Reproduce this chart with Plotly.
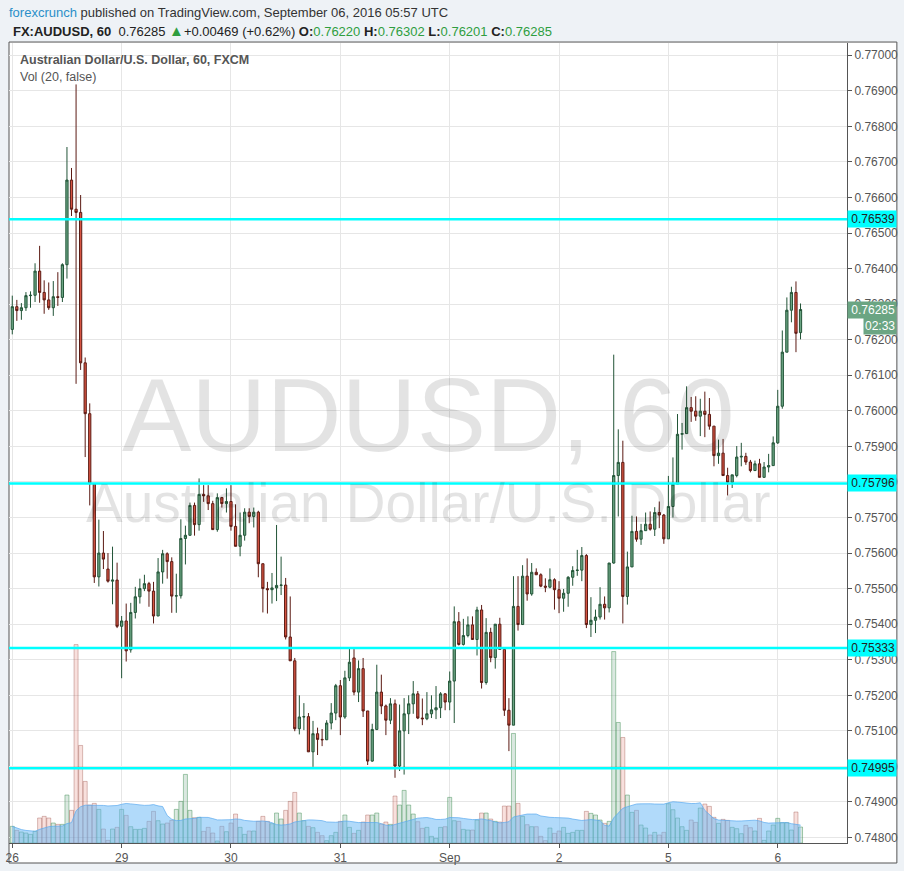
import pandas as pd
import plotly.graph_objects as go

# AUDUSD 60 min bars (FXCM), 26 Aug - 6 Sep 2016; market closed Fri 21:00 - Sun 21:00 UTC
all_hours = pd.date_range("2016-08-26 00:00", "2016-09-06 05:00", freq="h")
open_hours = [t for t in all_hours
              if not (t.dayofweek == 5
                      or (t.dayofweek == 4 and t.hour >= 21)
                      or (t.dayofweek == 6 and t.hour < 21))]
times = [t.strftime("%Y-%m-%d %H:%M") for t in open_hours]

opens = [
    .76229, .76293, .76282, .76290, .76324, .76325, .76393, .76333, .76312, .76290,
    .76321, .76319, .76411, .76649, .76567, .76558, .76135, .75992, .75795, .75533,
    .75600, .75555, .75521, .75524, .75394, .75409, .75328, .75433, .75477, .75500,
    .75514, .75493, .75423, .75547, .75598, .75576, .75479, .75480, .75641, .75650,
    .75734, .75680, .75765, .75761, .75739, .75666, .75756, .75739, .75745, .75675,
    .75619, .75650, .75715, .75703, .75715, .75570, .75500, .75497, .75502, .75509,
    .75510, .75364, .75297, .75106, .75139, .75140, .75041, .75092, .75076, .75075,
    .75122, .75150, .75227, .75139, .75249, .75305, .75209, .75275, .75156, .75015,
    .75104, .75209, .75170, .75130, .75176, .75001, .75100, .75148, .75176, .75204,
    .75136, .75134, .75148, .75159, .75165, .75204, .75181, .75240, .75407, .75343,
    .75368, .75398, .75357, .75440, .75236, .75377, .75306, .75400, .75329, .75158,
    .75116, .75450, .75399, .75535, .75485, .75546, .75539, .75507, .75504, .75525,
    .75497, .75473, .75487, .75532, .75551, .75552, .75593, .75399, .75411, .75420,
    .75456, .75446, .75572, .75818, .75855, .75478, .75561, .75661, .75639, .75663,
    .75681, .75667, .75714, .75707, .75640, .75731, .75794, .75934, .75936, .76009,
    .75999, .75985, .75999, .75990, .75957, .75874, .75881, .75818, .75799, .75818,
    .75870, .75872, .75856, .75832, .75851, .75813, .75842, .75846, .75910, .76013,
    .76165, .76283, .76333, .76220]
highs = [
    .76324, .76312, .76303, .76334, .76336, .76415, .76464, .76367, .76361, .76365,
    .76390, .76415, .76742, .76683, .76918, .76607, .76150, .76021, .75795, .75694,
    .75662, .75600, .75618, .75573, .75423, .75458, .75460, .75505, .75528, .75539,
    .75519, .75519, .75586, .75609, .75602, .75588, .75542, .75695, .75677, .75742,
    .75742, .75810, .75791, .75791, .75747, .75768, .75758, .75782, .75791, .75737,
    .75714, .75726, .75726, .75728, .75719, .75570, .75519, .75544, .75679, .75590,
    .75530, .75478, .75305, .75200, .75178, .75150, .75128, .75109, .75105, .75130,
    .75178, .75232, .75243, .75269, .75335, .75330, .75298, .75305, .75156, .75120,
    .75286, .75258, .75174, .75192, .75188, .75174, .75192, .75200, .75240, .75212,
    .75191, .75209, .75200, .75226, .75209, .75206, .75267, .75450, .75434, .75415,
    .75422, .75422, .75449, .75454, .75417, .75390, .75400, .75418, .75329, .75192,
    .75535, .75535, .75566, .75585, .75572, .75557, .75543, .75529, .75557, .75529,
    .75521, .75499, .75535, .75563, .75609, .75617, .75597, .75476, .75441, .75504,
    .75478, .75572, .76158, .75948, .75916, .75604, .75705, .75703, .75682, .75714,
    .75717, .75729, .75745, .75710, .75817, .75869, .75991, .75966, .76069, .76039,
    .76041, .76034, .76054, .76036, .75957, .75919, .75921, .75840, .75820, .75901,
    .75910, .75882, .75862, .75860, .75865, .75856, .75879, .75928, .76059, .76226,
    .76319, .76349, .76364, .76302]
lows = [
    .76215, .76253, .76256, .76281, .76290, .76306, .76304, .76273, .76284, .76267,
    .76295, .76306, .76372, .76548, .76076, .76115, .75870, .75734, .75516, .75506,
    .75555, .75517, .75456, .75389, .75248, .75295, .75320, .75416, .75458, .75493,
    .75449, .75402, .75423, .75514, .75528, .75432, .75432, .75472, .75568, .75649,
    .75649, .75663, .75744, .75721, .75665, .75660, .75728, .75714, .75663, .75619,
    .75591, .75635, .75684, .75672, .75532, .75433, .75430, .75458, .75465, .75482,
    .75357, .75297, .75099, .75090, .75102, .75041, .74999, .75032, .75057, .75074,
    .75104, .75130, .75088, .75134, .75240, .75200, .75181, .75139, .75004, .75013,
    .75102, .75147, .75088, .75119, .74968, .74987, .74977, .75091, .75148, .75133,
    .75116, .75130, .75136, .75133, .75136, .75158, .75158, .75122, .75340, .75340,
    .75363, .75357, .75312, .75219, .75230, .75293, .75275, .75329, .75142, .75043,
    .75116, .75382, .75399, .75466, .75480, .75539, .75504, .75490, .75501, .75441,
    .75431, .75435, .75449, .75508, .75536, .75521, .75389, .75364, .75375, .75413,
    .75413, .75433, .75570, .75703, .75402, .75455, .75561, .75632, .75623, .75663,
    .75663, .75648, .75670, .75626, .75640, .75700, .75794, .75891, .75936, .75969,
    .75972, .75929, .75926, .75947, .75844, .75851, .75818, .75762, .75783, .75813,
    .75844, .75848, .75827, .75832, .75813, .75812, .75827, .75846, .75907, .76006,
    .76165, .76249, .76165, .76201]
closes = [
    .76293, .76282, .76290, .76324, .76325, .76393, .76333, .76312, .76290, .76321,
    .76319, .76411, .76649, .76567, .76558, .76135, .75992, .75795, .75533, .75600,
    .75583, .75521, .75524, .75394, .75409, .75325, .75433, .75477, .75500, .75514,
    .75493, .75423, .75547, .75598, .75576, .75479, .75480, .75641, .75650, .75734,
    .75680, .75765, .75761, .75739, .75666, .75756, .75739, .75745, .75675, .75619,
    .75650, .75715, .75703, .75715, .75570, .75500, .75497, .75502, .75509, .75510,
    .75364, .75297, .75106, .75139, .75140, .75041, .75092, .75076, .75075, .75122,
    .75150, .75227, .75139, .75249, .75293, .75209, .75275, .75156, .75015, .75104,
    .75209, .75170, .75130, .75176, .75001, .75100, .75148, .75176, .75204, .75136,
    .75134, .75148, .75159, .75165, .75204, .75181, .75240, .75407, .75343, .75368,
    .75398, .75357, .75440, .75236, .75377, .75306, .75400, .75329, .75158, .75116,
    .75450, .75399, .75535, .75485, .75546, .75539, .75507, .75504, .75525, .75497,
    .75473, .75487, .75532, .75551, .75552, .75593, .75399, .75411, .75420, .75456,
    .75446, .75572, .75818, .75855, .75478, .75561, .75661, .75639, .75663, .75681,
    .75667, .75714, .75707, .75640, .75731, .75794, .75934, .75936, .76009, .75999,
    .75985, .75999, .75990, .75957, .75874, .75881, .75818, .75799, .75820, .75870,
    .75872, .75856, .75832, .75851, .75813, .75842, .75846, .75910, .76013, .76165,
    .76283, .76333, .76218, .76285]
volume = [
    50, 38, 33, 30, 26, 35, 75, 80, 75, 60, 56, 56, 144, 98,
    596, 293, 185, 114, 119, 101, 42, 8, 42, 47, 101, 83, 49, 41,
    41, 44, 65, 95, 67, 57, 60, 68, 101, 125, 206, 98, 76, 77,
    35, 47, 30, 6, 50, 34, 60, 87, 47, 26, 36, 36, 65, 80,
    65, 58, 90, 72, 98, 125, 152, 90,
    67, 50, 46, 32, 22, 7, 22, 32, 65, 84, 47, 29, 38, 63,
    84, 84, 90, 57, 63, 56, 141, 114, 158, 114, 87, 64, 44, 47,
    20, 14, 47, 49, 137, 67, 65, 41, 39, 39, 69, 90, 90, 72,
    65, 63, 111, 111, 329, 119, 80, 55, 49, 49, 20, 7, 45, 29,
    36, 47, 29, 32, 38, 38, 95, 89, 84, 69, 59, 65, 575, 362,
    317, 144, 92, 98, 54, 45, 24, 32, 24, 32, 118, 100, 75, 49,
    38, 69, 62, 105, 117, 110, 77, 59, 71, 68, 47, 43, 28, 53,
    46, 36, 74, 8, 36, 54, 74, 61, 61, 39, 93, 48]

day_ticks = ["2016-08-26 00:00", "2016-08-29 00:00", "2016-08-30 00:00", "2016-08-31 00:00",
             "2016-09-01 00:00", "2016-09-02 00:00", "2016-09-05 00:00", "2016-09-06 00:00"]
day_labels = ["26", "29", "30", "31", "Sep", "2", "5", "6"]

levels = [0.76539, 0.75796, 0.75333, 0.74995]

# Vol (20) moving average
vol_ma = pd.Series(volume).rolling(20, min_periods=1).mean()

up_col, down_col = "#6ba583", "#d75442"
vol_fill = ["rgba(107,165,131,0.25)" if c >= o else "rgba(215,84,66,0.18)" for o, c in zip(opens, closes)]
vol_edge = ["rgba(60,140,80,0.45)" if c >= o else "rgba(150,70,60,0.35)" for o, c in zip(opens, closes)]

fig = go.Figure()

fig.add_trace(go.Bar(
    x=times, y=volume, yaxis="y",
    marker=dict(color=vol_fill, line=dict(color=vol_edge, width=1)),
    hoverinfo="skip",
))
fig.add_trace(go.Scatter(
    x=times, y=vol_ma, yaxis="y", mode="lines",
    line=dict(color="rgba(90,170,240,0.7)", width=1),
    fill="tozeroy", fillcolor="rgba(100,181,246,0.5)",
    hoverinfo="skip",
))
fig.add_trace(go.Candlestick(
    x=times, open=opens, high=highs, low=lows, close=closes, yaxis="y2",
    increasing=dict(fillcolor=up_col, line=dict(color="#225437", width=1)),
    decreasing=dict(fillcolor=down_col, line=dict(color="#5b1a13", width=1)),
    whiskerwidth=0,
))

for lvl in levels:
    fig.add_shape(type="line", xref="paper", x0=0, x1=1, yref="y2", y0=lvl, y1=lvl,
                  line=dict(color="#00ffff", width=2.5))
    fig.add_annotation(x=1, xref="paper", xanchor="left", y=lvl, yref="y2",
                       text=f"{lvl:.5f}", showarrow=False, bgcolor="#00ffff",
                       font=dict(size=12, color="#222"), width=46, align="right", borderpad=1)

last = closes[-1]
fig.add_annotation(x=1, xref="paper", xanchor="left", y=last, yref="y2",
                   text=f"{last:.5f}", showarrow=False, bgcolor=up_col,
                   font=dict(size=12, color="white"), width=46, align="right", borderpad=1)
fig.add_annotation(x=1.0595, xref="paper", xanchor="right", y=last, yref="y2", yshift=-16,
                   text="02:33", showarrow=False, bgcolor=up_col,
                   font=dict(size=12, color="white"), borderpad=1)

# outer frame of the chart pane
fig.add_shape(type="rect", xref="paper", yref="paper", x0=0, x1=1.0595, y0=-0.025, y1=1.0012,
              line=dict(color="#555", width=1), fillcolor="white", layer="below")

# watermark
fig.add_annotation(x=0.5, y=0.535, xref="paper", yref="paper", text="AUDUSD, 60",
                   showarrow=False, font=dict(size=104, color="rgba(0,0,0,0.11)"))
fig.add_annotation(x=0.5, y=0.425, xref="paper", yref="paper", text="Australian Dollar/U.S. Dollar",
                   showarrow=False, font=dict(size=55, color="rgba(0,0,0,0.11)"))

# header
fig.add_annotation(x=-0.0024, y=1.0381, xref="paper", yref="paper", xanchor="left", yanchor="middle",
                   text="<span style='color:#2a8fc9'>forexcrunch</span> published on TradingView.com, "
                        "September 06, 2016 05:57 UTC",
                   showarrow=False, font=dict(size=13, color="#333"))
green = "#2f9e3f"
fig.add_annotation(x=0.0024, y=1.0156, xref="paper", yref="paper", xanchor="left", yanchor="middle",
                   text=f"<b>FX:AUDUSD, 60</b>  0.76285 <span style='color:{green}; font-size:15px'>▲</span>"
                        f"+0.00469 (+0.62%) <b>O:</b><span style='color:{green}'>0.76220</span> "
                        f"<b>H:</b><span style='color:{green}'>0.76302</span> "
                        f"<b>L:</b><span style='color:{green}'>0.76201</span> "
                        f"<b>C:</b><span style='color:{green}'>0.76285</span>",
                   showarrow=False, font=dict(size=13, color="#222"))
fig.add_annotation(x=0.0107, y=0.9788, xref="paper", yref="paper", xanchor="left", yanchor="middle",
                   text="<b>Australian Dollar/U.S. Dollar, 60, FXCM</b>",
                   showarrow=False, font=dict(size=12.5, color="#555"))
fig.add_annotation(x=0.0107, y=0.9576, xref="paper", yref="paper", xanchor="left", yanchor="middle",
                   text="Vol (20, false)", showarrow=False, font=dict(size=12.5, color="#555"))

fig.update_layout(
    width=904, height=871,
    margin=dict(l=6, r=57, t=43, b=27),
    paper_bgcolor="#eef2f6", plot_bgcolor="white",
    showlegend=False, bargap=0.12, hovermode=False,
    font=dict(family="Liberation Sans, Arial, sans-serif", color="#555", size=12),
    xaxis=dict(type="category", range=[-0.72, 183.2], tickvals=day_ticks, ticktext=day_labels,
               showgrid=True, gridcolor="#e6e6e6", ticks="outside", ticklen=4, tickcolor="#555",
               showline=True, linecolor="#555", rangeslider=dict(visible=False),
               tickfont=dict(size=12, color="#555")),
    yaxis=dict(range=[0, 2403], visible=False, showgrid=False, zeroline=False),
    yaxis2=dict(overlaying="y", side="right", range=[0.747846, 0.770345],
                tick0=0.748, dtick=0.001, tickformat=".5f", showgrid=True, gridcolor="#e6e6e6",
                ticks="outside", ticklen=4, tickcolor="#555", showline=True, linecolor="#555",
                zeroline=False, tickfont=dict(size=12, color="#555")),
)

# the page's default body margin would push the 904x871 figure off the window
fig.write_html("out.html", config={"displayModeBar": False},
               post_script="document.body.style.margin = '0';")
